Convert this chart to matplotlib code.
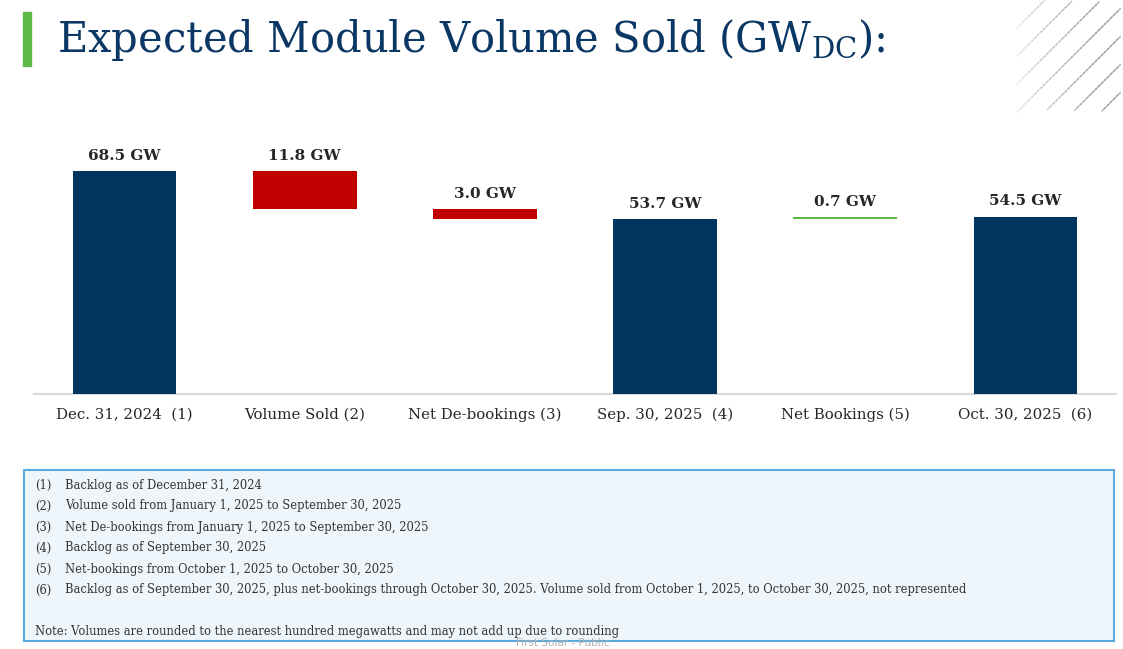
import matplotlib
matplotlib.use("Agg")
import matplotlib.pyplot as plt
from matplotlib.patches import Rectangle
import numpy as np

# ---------------- data ----------------
categories = ["Dec. 31, 2024  (1)", "Volume Sold (2)", "Net De-bookings (3)",
              "Sep. 30, 2025  (4)", "Net Bookings (5)", "Oct. 30, 2025  (6)"]
values = [68.5, -11.8, -3.0, 53.7, 0.7, 54.5]
kinds = ["total", "delta", "delta", "total", "delta", "total"]
value_labels = ["68.5 GW", "11.8 GW", "3.0 GW", "53.7 GW", "0.7 GW", "54.5 GW"]
footnotes = [
    ("(1)", "Backlog as of December 31, 2024"),
    ("(2)", "Volume sold from January 1, 2025 to September 30, 2025"),
    ("(3)", "Net De-bookings from January 1, 2025 to September 30, 2025"),
    ("(4)", "Backlog as of September 30, 2025"),
    ("(5)", "Net-bookings from October 1, 2025 to October 30, 2025"),
    ("(6)", "Backlog as of September 30, 2025, plus net-bookings through October 30, 2025. "
            "Volume sold from October 1, 2025, to October 30, 2025, not represented"),
]
note = "Note: Volumes are rounded to the nearest hundred megawatts and may not add up due to rounding"
title_text = "Expected Module Volume Sold (GW$_{\\mathrm{DC}}$):"

NAVY = "#00355F"
RED = "#C00000"
GREEN = "#5DB846"
TXT = "#262626"

plt.rcParams["font.family"] = ["DejaVu Serif"]
plt.rcParams["mathtext.fontset"] = "dejavuserif"

W, H = 1123, 649
fig = plt.figure(figsize=(W / 100, H / 100), dpi=100)
fig.patch.set_facecolor("white")

def fx(px):
    return px / W

def fy(py):
    return 1 - py / H

# ---------------- waterfall axes ----------------
ax = fig.add_axes([fx(34.4), fy(394), fx(1115.6) - fx(34.4), (394 - 133.6) / H])
ax.set_xlim(-0.5, 5.5)
ax.set_ylim(0, 80)

running = 0.0
x = np.arange(len(categories))
for i, (v, k) in enumerate(zip(values, kinds)):
    if k == "total":
        bottom, height, color = 0, v, NAVY
        running = v
    else:
        if v < 0:
            bottom, height, color = running + v, -v, RED
        else:
            bottom, height, color = running, v, GREEN
        running = running + v
    ax.bar(x[i], height, bottom=bottom, width=0.575, color=color, zorder=3)
    ax.annotate(value_labels[i], (x[i], bottom + height), xytext=(0, 6),
                textcoords="offset points", ha="center", va="bottom",
                fontsize=11, fontweight="bold", color=TXT)

for s in ["top", "right", "left"]:
    ax.spines[s].set_visible(False)
ax.spines["bottom"].set_color("#D9D9D9")
ax.spines["bottom"].set_linewidth(1.5)
ax.set_yticks([])
ax.set_xticks(x)
ax.set_xticklabels(categories, fontsize=10.8, color=TXT)
ax.tick_params(axis="x", length=0, pad=10)

# ---------------- title ----------------
fig.patches.append(Rectangle((fx(23), fy(66)), fx(8), 54 / H, transform=fig.transFigure,
                             color=GREEN, zorder=5))
fig.text(fx(57), fy(40), title_text, fontsize=30, color="#0B3764",
         ha="left", va="center")

# diagonal decoration at top right
for k in range(0, 9):
    x0, y0 = 1017, 28 * k
    n = 80
    t = np.linspace(0, 240, n)
    xs = x0 + t
    ys = y0 - t
    for j in range(n - 1):
        xa, ya, xb, yb = xs[j], ys[j], xs[j + 1], ys[j + 1]
        if xa < 1017 or xb > 1123 or yb < 0 or ya > 112:
            continue
        a = 0.15 + min(1.0, (xa - 1017) / 80) * 0.55
        fig.add_artist(plt.Line2D([fx(xa), fx(xb)], [fy(ya), fy(yb)], transform=fig.transFigure,
                                  color="#8C8C8C", alpha=a, lw=1.0))

# ---------------- footnote box ----------------
fig.patches.append(Rectangle((fx(24), fy(641)), fx(1114) - fx(24), (641 - 470) / H,
                             transform=fig.transFigure, facecolor="#EEF6FC",
                             edgecolor="#5AA9DB", lw=1.5, zorder=1))
for i, (num, txt) in enumerate(footnotes):
    yy = 485 + 21 * i
    fig.text(fx(35), fy(yy), num, fontsize=8.3, color="#333333", ha="left", va="center", zorder=6)
    fig.text(fx(65), fy(yy), txt, fontsize=8.3, color="#333333", ha="left", va="center", zorder=6)
fig.text(fx(35), fy(631), note, fontsize=8.3, color="#333333", ha="left", va="center", zorder=6)
fig.text(fx(563), fy(643.5), "First Solar - Public", fontsize=7.5, color="#B0B0B0",
         ha="center", va="center", family="DejaVu Sans", zorder=7)

fig.savefig("out.png", dpi=100)
